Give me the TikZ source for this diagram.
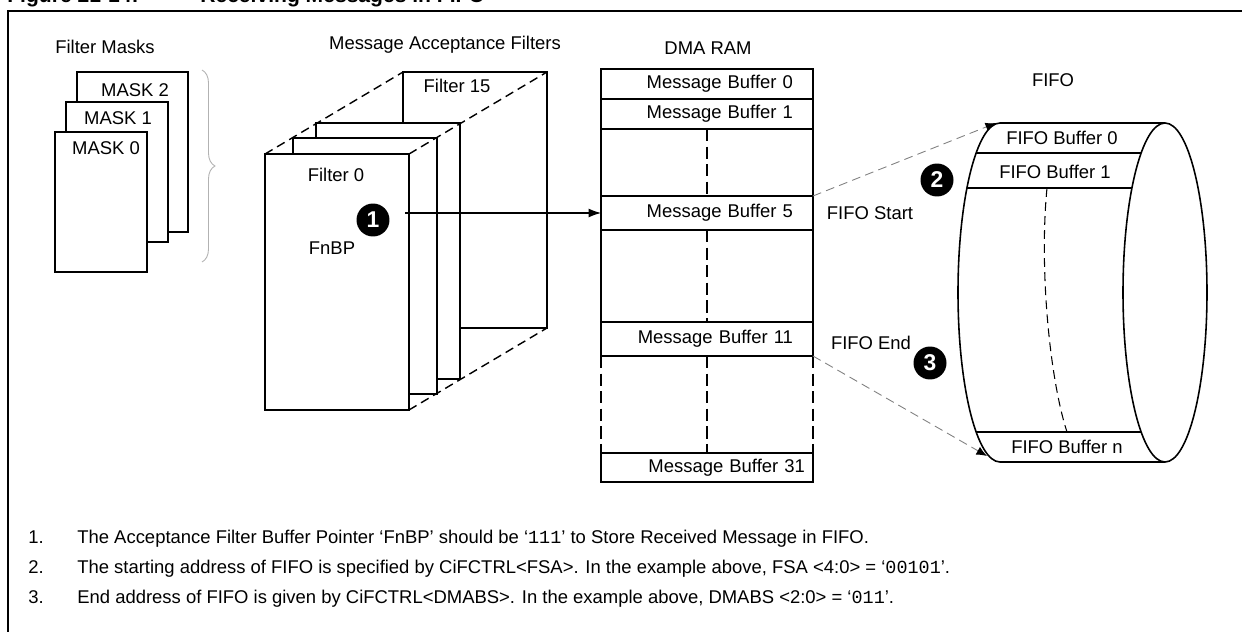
\documentclass[tikz,border=0pt]{standalone}
\usepackage{fontspec}
\setmainfont{Liberation Sans}
\setmonofont{Liberation Mono}
\usetikzlibrary{arrows.meta, decorations.pathreplacing}

\begin{document}
\begin{tikzpicture}[x=0.02cm, y=-0.02cm, font=\fontsize{10.5}{12}\selectfont]

\tikzset{box/.style = {draw, line width=1pt, fill=white, outer sep=0, inner sep=0}}
\tikzset{filt/.style = {box, minimum width=2.88cm, minimum height=5.12cm}}
\tikzset{row/.style = {box, minimum width=4.24cm, text width=3.44cm, align=right, inner xsep=0.4cm}}
\tikzset{num/.style = {shape=circle, fill=black, text=white, minimum size=0.66cm, inner sep=0, font=\fontsize{13}{13}\selectfont\bfseries}}
\tikzset{edge/.style = {-{Latex[length=7pt,width=5pt]}, line width=0.6pt}}
\tikzset{guide/.style = {dash pattern=on 5pt off 3pt, line width=0.5pt, gray, -{Latex[black,length=6pt,width=5pt]}}}
\tikzset{depth/.style = {dash pattern=on 5pt off 3pt, line width=0.8pt}}
\tikzset{sep/.style = {dash pattern=on 7pt off 3pt, line width=1.2pt}}
\tikzset{note/.style = {anchor=base west, inner sep=0}}

\useasboundingbox (0,0) rectangle (1242,632);
\clip (0,0) rectangle (1242,632);

%frame
\node[note, font=\fontsize{12}{14}\selectfont\bfseries] (title) at (7,3) {\makebox[3.86cm][l]{Figure 21-14:}Receiving Messages in FIFO};
\draw[line width=1pt] (8,700) -- (8,11) -- (1300,11);

%masks
\node (tmasks) at (105,47) {Filter Masks};
\node[box, minimum width=2.22cm, minimum height=3.2cm] (m2) at (132.5,152) {};
\node (tm2) at (135,90) {MASK 2};
\node[box, minimum width=2.04cm, minimum height=2.8cm] (m1) at (117,172) {};
\node (tm1) at (118,118) {MASK 1};
\node[box, minimum width=1.84cm, minimum height=2.8cm] (m0) at (101,202) {};
\node (tm0) at (106,148) {MASK 0};
\draw[gray!60, line width=0.5pt, decorate, decoration={brace, amplitude=0.26cm}] (202,70) -- (202,262);

%filters
\node (tfilt) at (445,45) {Message Acceptance Filters};
\node[filt] (f15) at (475,200) {};
\node[filt] (f2) at (388,251) {};
\node[filt] (f1) at (365,266) {};
\node[filt] (f0) at (337,282) {};
\draw[depth] (f0.north west) -- (f15.north west);
\draw[depth] (f0.north east) -- (f15.north east);
\draw[depth] (f0.south east) -- (f15.south east);
\node (tf15) at (457,86) {Filter 15};
\node (tf0) at (336,175) {Filter 0};
\node (tbp) at (332,248) {FnBP};
\node[num] (n1) at (373,220) {1};
\coordinate (bp) at (405,213);

%dma ram
\node (tdma) at (708,48) {DMA RAM};
\node[row, minimum height=0.6cm] (mb0) at (707,84) {Message Buffer 0};
\node[row, minimum height=0.6cm] (mb1) at (707,114) {Message Buffer 1};
\node[row, minimum height=0.68cm] (mb5) at (707,213) {Message Buffer 5};
\node[row, minimum height=0.68cm] (mb11) at (707,339) {Message Buffer 11};
\node[row, minimum height=0.58cm, text width=3.92cm, inner xsep=0.16cm] (mb31) at (707,467.5) {Message Buffer 31};
\draw[line width=1pt] (mb1.south west) -- (mb5.north west) (mb1.south east) -- (mb5.north east)
  (mb5.south west) -- (mb11.north west) (mb5.south east) -- (mb11.north east);
\draw[sep] (mb11.south west) -- (mb31.north west) (mb11.south east) -- (mb31.north east);
\draw[sep] (mb1.south) -- (mb5.north) (mb5.south) -- (mb11.north) (mb11.south) -- (mb31.north);
\draw[edge] (bp) -- (mb5.west);

%fifo
\node (tfifo) at (1053,80) {FIFO};
\coordinate (ctop) at (1000,123);
\coordinate (cbot) at (1000,462);
\draw[line width=0.9pt] (1165,123) -- (ctop) arc[start angle=270, end angle=90, x radius=42, y radius=169.5] -- (1165,462);
\draw[line width=0.9pt] (1165,292.5) ellipse [x radius=42, y radius=169.5];
\draw[line width=0.9pt] (976.1,153) -- (1141.1,153) (967,188) -- (1132,188) (976.1,432) -- (1141.1,432);
\draw[dash pattern=on 5pt off 3pt, line width=0.6pt] (1047,188) .. controls (1039,270) and (1050,380) .. (1067,432);
\node (fb0) at (1062,138) {FIFO Buffer 0};
\node (fb1) at (1055,172) {FIFO Buffer 1};
\node (fbn) at (1067,447) {FIFO Buffer n};
\node (tstart) at (870,213) {FIFO Start};
\node (tend) at (871,343) {FIFO End};
\node[num] (n2) at (937,180) {2};
\node[num] (n3) at (930,363) {3};
\coordinate (fstart) at (996,123);
\coordinate (fend) at (987,456);
\draw[guide] (mb5.north east) -- (fstart);
\draw[guide] (mb11.south east) -- (fend);

%notes
\node[note] (note1) at (28,543.5) {\makebox[0.98cm][l]{1.}The Acceptance Filter Buffer Pointer `FnBP' should be `\texttt{111}' to Store Received Message in FIFO.};
\node[note] (note2) at (28,573.5) {\makebox[0.98cm][l]{2.}The starting address of FIFO is specified by CiFCTRL<FSA>. In the example above, FSA <4:0> = `\texttt{00101}'.};
\node[note] (note3) at (28,603.5) {\makebox[0.98cm][l]{3.}End address of FIFO is given by CiFCTRL<DMABS>. In the example above, DMABS <2:0> = `\texttt{011}'.};

\end{tikzpicture}
\end{document}
